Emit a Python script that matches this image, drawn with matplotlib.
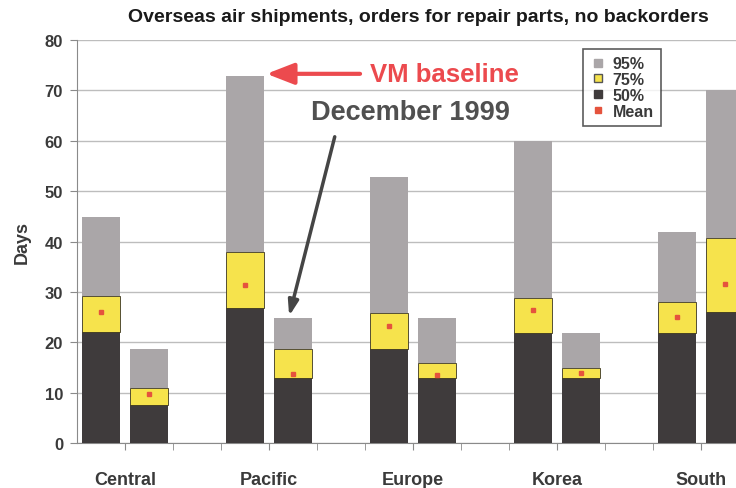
import numpy as np
import matplotlib
matplotlib.use("Agg")
import matplotlib.pyplot as plt
from matplotlib.lines import Line2D

plt.rcParams['font.family'] = ['Liberation Sans', 'DejaVu Sans']
plt.rcParams['font.weight'] = 'bold'

# Data (days)
regions = ['Central', 'Pacific', 'Europe', 'Korea', 'South']
# two bars per region: VM baseline, December 1999
p50  = [22.0, 7.5, 26.8, 12.9, 18.7, 12.9, 21.8, 12.9, 21.8, 26.0]
p75  = [29.1, 11.0, 37.9, 18.7, 25.8, 15.9, 28.8, 14.9, 28.0, 40.7]
p95  = [44.8, 18.6, 72.8, 24.8, 52.8, 24.8, 59.9, 21.8, 41.9, 70.1]
mean = [26.0, 9.7, 31.3, 13.7, 23.2, 13.5, 26.4, 13.9, 25.0, 31.5]

c_dark = '#3f3b3c'
c_yel = '#f6e34c'
c_gray = '#aaa6a8'
c_red = '#e5533d'
c_txt = '#3a3a3a'

# slot positions: two bars, then a gap
x = np.array([0, 1, 3, 4, 6, 7, 9, 10, 12, 13])
w = 0.79

fig = plt.figure(figsize=(7.36, 4.89), dpi=100)
ax = fig.add_axes([0.1046, 0.092, 0.8954, 0.824])

p50 = np.array(p50); p75 = np.array(p75); p95 = np.array(p95)
ax.bar(x, p50, width=w, color=c_dark, zorder=3)
ax.bar(x, p75 - p50, bottom=p50, width=w, color=c_yel, edgecolor='#3a3520', linewidth=0.6, zorder=3)
ax.bar(x, p95 - p75, bottom=p75, width=w, color=c_gray, zorder=3)
ax.plot(x, mean, 's', color=c_red, markersize=3.5, zorder=4, linestyle='none')

ax.set_xlim(-0.5, 13.23)
ax.set_ylim(0, 80)
ax.set_yticks(np.arange(0, 81, 10))
ax.yaxis.grid(True, color='#bdbdbd', linewidth=1.0, zorder=0)
for s in ['top', 'right']:
    ax.spines[s].set_visible(False)
for s in ['left', 'bottom']:
    ax.spines[s].set_color('#8a8a8a')
ax.tick_params(axis='y', colors='#8a8a8a', labelcolor=c_txt, labelsize=12, length=5, pad=5)

# group labels on major ticks, bar boundaries as minor ticks
ax.set_xticks([0.5, 3.5, 6.5, 9.5, 12.5])
ax.set_xticklabels(regions)
ax.set_xticks(np.arange(0.5, 13.5, 1.0), minor=True)
ax.tick_params(axis='x', which='both', colors='#8a8a8a', labelcolor=c_txt,
               labelsize=13, length=5, pad=15)
for lab in ax.get_xticklabels() + ax.get_yticklabels():
    lab.set_fontweight('bold')

ax.set_ylabel('Days', fontsize=13, fontweight='bold', color=c_txt, labelpad=10)
fig.text(0.569, 0.965, 'Overseas air shipments, orders for repair parts, no backorders',
         ha='center', va='center', fontsize=14, fontweight='bold', color='#1a1a1a')

# annotations
ax.annotate('VM baseline', xy=(3.45, 73.3), xytext=(5.6, 73.3),
            fontsize=18.5, fontweight='bold', color='#ec4a4e', va='center', ha='left',
            arrowprops=dict(arrowstyle='-|>,head_length=0.9,head_width=0.35',
                            color='#ec4a4e', lw=3, shrinkA=5, shrinkB=0))
ax.text(6.45, 65.8, 'December 1999', fontsize=19.5, fontweight='bold', color='#505050',
        ha='center', va='center')
ax.annotate('', xy=(3.92, 25.2), xytext=(4.87, 60.8),
            arrowprops=dict(arrowstyle='-|>,head_length=0.9,head_width=0.3',
                            color='#454545', lw=2.5, shrinkA=0, shrinkB=0))

handles = [Line2D([], [], marker='s', linestyle='none', color=c_gray, markersize=6),
           Line2D([], [], marker='s', linestyle='none', color=c_yel, markeredgecolor='#555', markersize=6),
           Line2D([], [], marker='s', linestyle='none', color=c_dark, markersize=6),
           Line2D([], [], marker='s', linestyle='none', color=c_red, markersize=4)]
leg = ax.legend(handles, ['95%', '75%', '50%', 'Mean'], loc='upper left',
                bbox_to_anchor=(583 / 736, 1 - 50 / 489), bbox_transform=fig.transFigure,
                fontsize=11.5, frameon=True, fancybox=False, shadow=False,
                handletextpad=0.4, borderpad=0.45, labelspacing=0.05, handlelength=1.0,
                borderaxespad=0)
leg.get_frame().set_edgecolor('#333333')
leg.get_frame().set_linewidth(1.2)
for t in leg.get_texts():
    t.set_color(c_txt)
    t.set_fontweight('bold')

fig.savefig('out.png', dpi=100)
